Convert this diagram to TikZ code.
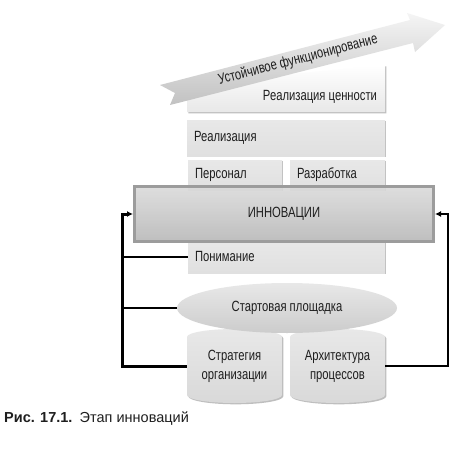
\documentclass[tikz,border=0pt]{standalone}
\usepackage{fontspec}
\setmainfont{Liberation Sans}
\newfontfamily\condfont[FakeStretch=0.76]{Liberation Sans}
\usetikzlibrary{shadows,arrows.meta,shapes.geometric}
\definecolor{boxgray}{HTML}{E8E8E8}
\definecolor{boxgrayb}{HTML}{E0E0E0}
\definecolor{innovtop}{HTML}{DADADA}
\definecolor{innovbot}{HTML}{B6B6B6}
\definecolor{innovline}{HTML}{9C9C9C}
\definecolor{txt}{HTML}{1E1E1E}
\begin{document}
\begin{tikzpicture}[x=1pt,y=-1pt,
  lbl/.style={font=\condfont\fontsize{14.8}{16.5}\selectfont, text=txt},
  shad/.style={drop shadow={shadow xshift=1.3pt, shadow yshift=-1.3pt, fill=black!28, opacity=0.9}},
  box/.style={rectangle, inner ysep=0pt, inner xsep=7pt, align=left, top color=boxgray, bottom color=boxgrayb, shad, lbl},
  innovbox/.style={rectangle, inner sep=0pt, draw=innovline, line width=3pt, top color=innovtop, bottom color=innovbot, fill opacity=0.88, text opacity=1, lbl},
  startell/.style={ellipse, inner sep=0pt, top color=boxgray, bottom color=black!20, lbl},
  cylfill/.style={top color=boxgray, bottom color=black!15, shad},
  cyltext/.style={rectangle, inner sep=0pt, align=center, lbl, font=\condfont\fontsize{14.8}{19}\selectfont},
  bandarrow/.style={top color=black!4, bottom color=black!24},
  fbthick/.style={draw=black, line width=3pt},
  fbthin/.style={draw=black, line width=2pt},
  tipstyle/.style={-{Latex[length=6pt,width=6pt]}}
]
\useasboundingbox (0,0) rectangle (474,453);
\fill[white] (0,0) rectangle (474,453);

% value box (under the arrow)
\path[top color=white, bottom color=black!9, shad] (187,112) -- (385,112) -- (385,65) -- (187,84) -- cycle;
\node[lbl] (val) at (320,97) {Реализация ценности};

% big diagonal arrow
\path[bandarrow] (160,85) -- (410,20) -- (407,13) -- (445,25) -- (415,52) -- (413,43) -- (170,105) -- (175,93) -- cycle;
\node[lbl, rotate=14.6] (sust) at (298,60) {Устойчивое функционирование};

% boxes
\node[box, text width=184pt, minimum height=36pt] (real) at (286,138) {Реализация};
\node[box, text width=80pt, minimum height=30pt] (pers) at (235,175) {Персонал};
\node[box, text width=81pt, minimum height=30pt] (razr) at (337.5,175) {Разработка};
\node[box, text width=183pt, minimum height=33pt] (pon) at (286.5,256.5) {Понимание};

% innovation bar
\node[innovbox, minimum width=299pt, minimum height=55pt] (innov) at (284,214) {ИННОВАЦИИ};

% cylinders
\path[cylfill] (187,337) -- (187,395) arc[start angle=180,end angle=0,x radius=47.5,y radius=8] -- (282,337) arc[start angle=0,end angle=-180,x radius=47.5,y radius=8] -- cycle;
\path[cylfill] (290,337) -- (290,395) arc[start angle=180,end angle=0,x radius=47.5,y radius=8] -- (385,337) arc[start angle=0,end angle=-180,x radius=47.5,y radius=8] -- cycle;
\node[cyltext, minimum width=95pt, minimum height=58pt] (strat) at (234.5,366) {Стратегия\\организации};
\node[cyltext, minimum width=95pt, minimum height=58pt] (arch) at (337.5,366) {Архитектура\\процессов};

% launch pad ellipse
\node[startell, minimum width=220pt, minimum height=50pt] (start) at (287,308) {Стартовая площадка};

% feedback connectors
\coordinate (lx) at (122,0);
\coordinate (rx) at (448,0);
\draw[fbthick, tipstyle] (strat.west) -- (strat.west -| lx) |- (innov.west);
\draw[fbthin] (pon.west) -- (pon.west -| lx);
\draw[fbthin] (start.west) -- (start.west -| lx);
\draw[fbthin, tipstyle] (arch.east) -- (arch.east -| rx) |- (innov.east);

% caption
\node[anchor=base west, inner sep=0pt, font=\fontsize{14.5}{16}\selectfont, text=txt] (cap) at (4,422) {\textbf{Рис. 17.1.}\hspace{0.5em}Этап инноваций};
\end{tikzpicture}
\end{document}
